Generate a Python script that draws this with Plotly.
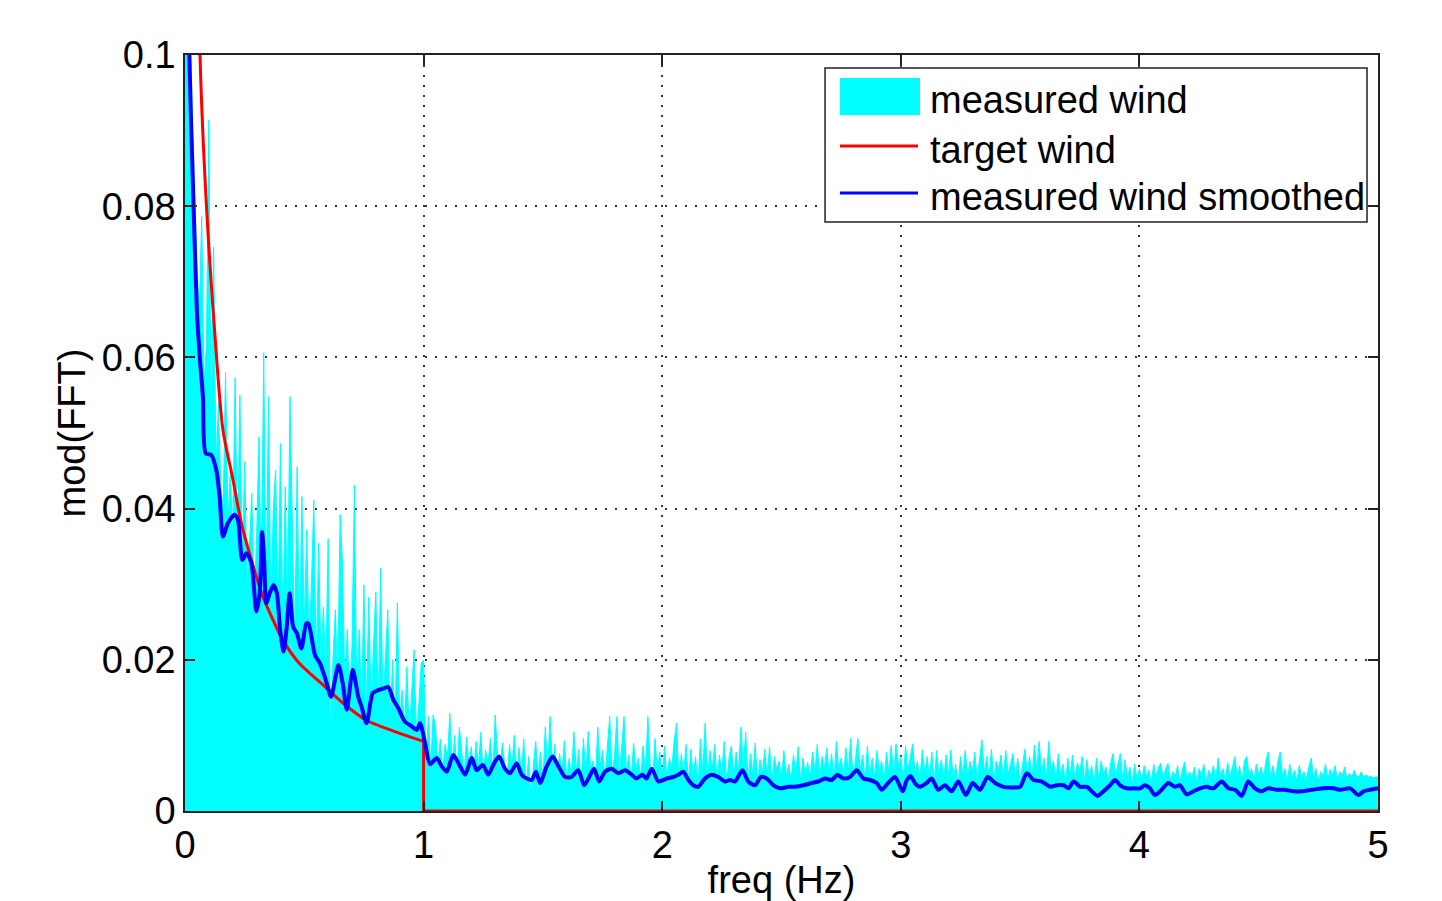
import plotly.graph_objects as go

# ---------------- data ----------------
# measured wind |FFT|, sampled every 0.01 Hz from 0 to 5 Hz, values in units of 1e-4
freq_step = 0.01
measured_e4 = [
    # 0.00 - 0.99
    2000, 1400, 1080, 920, 820, 720, 660, 786, 560, 620,
    914, 500, 746, 450, 540, 430, 400, 580, 380, 450,
    360, 573, 340, 550, 330, 462, 300, 350, 420, 280,
    360, 495, 300, 606, 270, 548, 260, 400, 451, 250,
    486, 240, 429, 260, 548, 389, 220, 455, 210, 416,
    240, 372, 220, 300, 411, 190, 354, 200, 270, 180,
    360, 98, 200, 266, 170, 392, 328, 160, 240, 150,
    220, 431, 150, 240, 140, 299, 130, 283, 140, 220,
    290, 130, 321, 140, 200, 266, 120, 200, 110, 275,
    120, 160, 110, 191, 100, 150, 213, 100, 140, 195,
    # 1.00 - 1.99
    200, 62, 125, 58, 127, 112, 60, 95, 52, 88,
    70, 129, 55, 100, 48, 111, 72, 45, 98, 60,
    85, 50, 92, 58, 104, 45, 80, 62, 96, 50,
    127, 74, 52, 90, 60, 45, 88, 55, 100, 42,
    84, 48, 95, 30, 72, 19, 60, 92, 45, 78,
    40, 111, 55, 125, 60, 88, 42, 76, 50, 93,
    38, 70, 45, 105, 52, 82, 35, 96, 48, 105,
    55, 66, 40, 111, 58, 80, 44, 90, 125, 50,
    72, 125, 46, 84, 125, 52, 74, 40, 90, 56,
    70, 44, 86, 50, 125, 60, 40, 96, 52, 78,
    # 2.00 - 2.99
    45, 86, 42, 70, 55, 92, 116, 40, 75, 50,
    88, 38, 82, 46, 72, 30, 95, 52, 116, 44,
    80, 55, 88, 40, 74, 50, 92, 36, 70, 86,
    44, 78, 52, 111, 60, 104, 40, 76, 48, 90,
    35, 68, 50, 82, 45, 85, 38, 72, 55, 66,
    42, 80, 46, 62, 40, 74, 50, 85, 38, 70,
    48, 64, 42, 78, 52, 88, 44, 72, 58, 83,
    48, 76, 40, 92, 55, 70, 46, 84, 50, 96,
    42, 68, 96, 52, 74, 40, 86, 48, 70, 45,
    80, 54, 66, 40, 78, 50, 87, 46, 89, 60,
    # 3.00 - 3.99
    72, 42, 86, 54, 70, 89, 48, 66, 40, 81,
    52, 72, 44, 78, 36, 80, 50, 68, 42, 74,
    46, 81, 40, 62, 30, 72, 48, 80, 44, 66,
    52, 78, 42, 70, 94, 50, 72, 46, 82, 40,
    66, 55, 74, 42, 80, 48, 64, 76, 44, 70,
    38, 62, 82, 50, 72, 44, 87, 56, 92, 48,
    70, 42, 92, 54, 66, 40, 76, 48, 62, 36,
    70, 46, 74, 40, 64, 52, 72, 38, 68, 44,
    60, 34, 70, 42, 66, 48, 58, 40, 64, 76,
    46, 62, 76, 40, 68, 44, 58, 36, 62, 42,
    # 4.00 - 5.00
    56, 40, 60, 46, 54, 36, 62, 44, 58, 63,
    42, 56, 63, 40, 52, 46, 60, 38, 55, 65,
    42, 52, 44, 58, 40, 56, 48, 62, 38, 54,
    46, 60, 42, 70, 48, 56, 40, 64, 46, 58,
    72, 44, 60, 38, 66, 72, 46, 56, 40, 62,
    48, 58, 42, 66, 78, 44, 60, 40, 64, 78,
    46, 56, 38, 62, 44, 54, 40, 60, 46, 52,
    42, 58, 70, 44, 56, 40, 52, 46, 62, 42,
    55, 48, 60, 40, 52, 46, 58, 42, 50, 44,
    54, 46, 45, 52, 44, 48, 45, 46, 44, 45,
    45,
]

target_freq = [0.04, 0.063, 0.09, 0.124, 0.159, 0.2, 0.236, 0.28, 0.327, 0.37, 0.41, 0.48,
               0.56, 0.663, 0.76, 0.88, 1.0]
target_val = [0.16, 0.1, 0.08, 0.0636, 0.0504, 0.044, 0.0381, 0.033, 0.0283, 0.0252, 0.0226, 0.0195,
              0.0172, 0.01425, 0.012, 0.0105, 0.0092]
target_tail_freq = [1.0, 1.0, 5.0]
target_tail_val = [0.0092, 0.0, 0.0]

smooth_freq = [
    0.0, 0.018, 0.036, 0.05, 0.062, 0.075, 0.087, 0.110, 0.131, 0.145, 0.159, 0.180,
    0.208, 0.222, 0.240, 0.257, 0.278, 0.299, 0.313, 0.323, 0.331, 0.341, 0.355, 0.371,
    0.385, 0.399, 0.413, 0.425, 0.439, 0.453, 0.469, 0.488, 0.508, 0.517, 0.545, 0.566,
    0.594, 0.612, 0.643, 0.661, 0.678, 0.703, 0.726, 0.740, 0.761, 0.787, 0.810, 0.831,
    0.852, 0.873, 0.894, 0.922, 0.950, 0.971, 0.985, 1.006, 1.027,
    1.055, 1.076, 1.097, 1.124, 1.153, 1.174, 1.202, 1.222, 1.248, 1.271, 1.292, 1.316,
    1.341, 1.362, 1.390, 1.411, 1.432, 1.453, 1.471, 1.488, 1.516, 1.541, 1.565, 1.593,
    1.620, 1.648, 1.673, 1.694, 1.714, 1.736, 1.760, 1.788, 1.816, 1.844, 1.872, 1.892,
    1.917, 1.934, 1.956, 1.984,
    2.019, 2.046, 2.068, 2.088, 2.110, 2.130, 2.151, 2.179, 2.207, 2.235, 2.263, 2.284,
    2.305, 2.336, 2.361, 2.389, 2.414, 2.438, 2.466, 2.494, 2.528, 2.556, 2.591, 2.626,
    2.654, 2.682, 2.710, 2.734, 2.759, 2.787, 2.815, 2.843, 2.871, 2.899, 2.920, 2.947,
    2.976, 3.008, 3.025, 3.041, 3.059, 3.080, 3.108, 3.129, 3.157, 3.185, 3.213, 3.241,
    3.273, 3.301, 3.332, 3.364, 3.395, 3.430, 3.465, 3.500, 3.528, 3.556, 3.591, 3.626,
    3.654, 3.682, 3.703, 3.724, 3.752, 3.780, 3.800, 3.824, 3.849, 3.877, 3.898, 3.919,
    3.947, 3.975, 4.003, 4.023, 4.044, 4.065, 4.093, 4.121, 4.149, 4.170, 4.198, 4.226,
    4.254, 4.282, 4.310, 4.345, 4.373, 4.401, 4.429, 4.456, 4.484, 4.512, 4.540, 4.575,
    4.610, 4.645, 4.680, 4.722, 4.771, 4.813, 4.841, 4.883, 4.918, 4.939, 4.967, 5.0,
]
smooth_val = [
    0.14, 0.1, 0.08, 0.066, 0.060, 0.0548, 0.0473, 0.0471, 0.0451, 0.0416, 0.0363, 0.0381,
    0.0392, 0.0385, 0.0332, 0.0341, 0.0328, 0.0264, 0.0288, 0.0369, 0.0336, 0.0275, 0.0288, 0.0299,
    0.0288, 0.0239, 0.0211, 0.0239, 0.0288, 0.0244, 0.0235, 0.0215, 0.0248, 0.0248, 0.0206, 0.0195,
    0.0169, 0.0151, 0.0193, 0.0169, 0.0134, 0.0187, 0.0151, 0.0138, 0.0116, 0.0156, 0.0160, 0.0162,
    0.0164, 0.0147, 0.0136, 0.0118, 0.0112, 0.0107, 0.0116, 0.0090, 0.0062,
    0.0070, 0.0059, 0.0052, 0.0074, 0.0059, 0.0048, 0.0070, 0.0054, 0.0061, 0.0048, 0.0061, 0.0072,
    0.0056, 0.0050, 0.0063, 0.0048, 0.0043, 0.0041, 0.0052, 0.0037, 0.0059, 0.0072, 0.0059, 0.0045,
    0.0045, 0.0054, 0.0034, 0.0045, 0.0056, 0.0039, 0.0052, 0.0056, 0.0050, 0.0054, 0.0048, 0.0043,
    0.0048, 0.0043, 0.0056, 0.0039,
    0.0043, 0.0045, 0.0048, 0.0052, 0.0041, 0.0034, 0.0032, 0.0043, 0.0048, 0.0045, 0.0039, 0.0041,
    0.0039, 0.0054, 0.0039, 0.0034, 0.0045, 0.0043, 0.0034, 0.0030, 0.0032, 0.0032, 0.0034, 0.0037,
    0.0039, 0.0043, 0.0041, 0.0048, 0.0043, 0.0045, 0.0054, 0.0043, 0.0041, 0.0037, 0.0028, 0.0037,
    0.0045, 0.0026, 0.0041, 0.0046, 0.0037, 0.0032, 0.0037, 0.0043, 0.0028, 0.0034, 0.0026, 0.0039,
    0.0021, 0.0037, 0.0028, 0.0045, 0.0037, 0.0032, 0.0031, 0.0032, 0.0050, 0.0041, 0.0039, 0.0032,
    0.0034, 0.0034, 0.0030, 0.0039, 0.0032, 0.0032, 0.0026, 0.0020, 0.0026, 0.0034, 0.0041, 0.0034,
    0.0030, 0.0030, 0.0030, 0.0034, 0.0030, 0.0021, 0.0028, 0.0037, 0.0032, 0.0034, 0.0022, 0.0026,
    0.0030, 0.0032, 0.0030, 0.0039, 0.0030, 0.0028, 0.0020, 0.0039, 0.0030, 0.0026, 0.0030, 0.0028,
    0.0028, 0.0026, 0.0026, 0.0028, 0.0030, 0.0030, 0.0028, 0.0030, 0.0021, 0.0026, 0.0028, 0.0030,
]

x_ticks = [0, 1, 2, 3, 4, 5]
x_tick_text = ["0", "1", "2", "3", "4", "5"]
y_ticks = [0, 0.02, 0.04, 0.06, 0.08, 0.1]
y_tick_text = ["0", "0.02", "0.04", "0.06", "0.08", "0.1"]
legend_labels = ["measured wind", "target wind", "measured wind smoothed"]

# ---------------- figure ----------------
measured_freq = [i * freq_step for i in range(len(measured_e4))]
measured_val = [v * 1e-4 for v in measured_e4]

CYAN, RED, BLUE = "#00FFFF", "#FF0000", "#0000FF"
FONT = "Liberation Sans, Arial, sans-serif"

fig = go.Figure()
fig.add_trace(go.Scatter(x=measured_freq, y=measured_val, mode="lines",
                         fill="tozeroy", fillcolor=CYAN,
                         line=dict(color=CYAN, width=1),
                         name=legend_labels[0], showlegend=False))
fig.add_trace(go.Scatter(x=target_freq, y=target_val, mode="lines",
                         line=dict(color=RED, width=3, shape="spline", smoothing=0.8),
                         name=legend_labels[1], showlegend=False))
fig.add_trace(go.Scatter(x=target_tail_freq, y=target_tail_val, mode="lines",
                         line=dict(color=RED, width=3),
                         name=legend_labels[1], showlegend=False))
fig.add_trace(go.Scatter(x=smooth_freq, y=smooth_val, mode="lines",
                         line=dict(color=BLUE, width=4, shape="spline", smoothing=0.7),
                         name=legend_labels[2], showlegend=False))

# legend drawn in paper coordinates (MATLAB style box)
lx0, lx1, ly0, ly1 = 0.5365, 0.9908, 0.7791, 0.9828
shapes = [
    dict(type="rect", xref="paper", yref="paper", x0=lx0, x1=lx1, y0=ly0, y1=ly1,
         fillcolor="white", line=dict(color="#222222", width=1.5), layer="above"),
    dict(type="rect", xref="paper", yref="paper", x0=0.549, x1=0.6161, y0=0.9206, y1=0.9696,
         fillcolor=CYAN, line=dict(width=0), layer="above"),
    dict(type="line", xref="paper", yref="paper", x0=0.549, x1=0.6144, y0=0.8796, y1=0.8796,
         line=dict(color=RED, width=3), layer="above"),
    dict(type="line", xref="paper", yref="paper", x0=0.549, x1=0.6144, y0=0.8175, y1=0.8175,
         line=dict(color=BLUE, width=3), layer="above"),
]
annotations = []
for label, ypos in zip(legend_labels, [0.9405, 0.8743, 0.8122]):
    annotations.append(dict(xref="paper", yref="paper", x=0.6228, y=ypos, text=label,
                            showarrow=False, xanchor="left", yanchor="middle",
                            font=dict(family=FONT, size=38, color="black")))

axis_common = dict(
    showline=True, linecolor="#222222", linewidth=1.5, mirror="ticks",
    ticks="inside", ticklen=10, tickwidth=1.5, tickcolor="#222222",
    showgrid=True, gridcolor="#333333", gridwidth=1.5, griddash="2px,8px",
    zeroline=False, automargin=False,
    tickfont=dict(family=FONT, size=38, color="black"),
)

fig.update_layout(
    width=1442, height=901,
    margin=dict(l=185, r=64, t=55, b=90),
    paper_bgcolor="white", plot_bgcolor="white",
    font=dict(family=FONT, size=38, color="black"),
    shapes=shapes, annotations=annotations,
    showlegend=False,
    xaxis=dict(range=[0, 5], tickvals=x_ticks, ticktext=x_tick_text,
               title=dict(text="freq (Hz)", standoff=7,
                          font=dict(family=FONT, size=38, color="black")),
               ticklabelstandoff=0, **axis_common),
    yaxis=dict(range=[0, 0.1], tickvals=y_ticks, ticktext=y_tick_text,
               title=dict(text="mod(FFT)", standoff=4,
                          font=dict(family=FONT, size=38, color="black")),
               ticklabelstandoff=0, **axis_common),
)

fig.write_html("out.html")
